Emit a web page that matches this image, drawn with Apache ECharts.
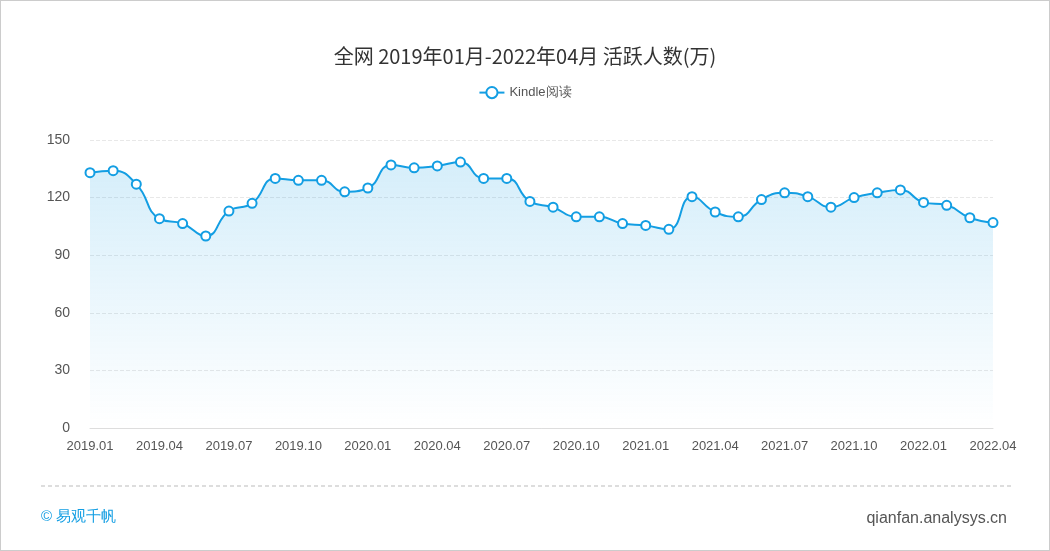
<!DOCTYPE html>
<html><head><meta charset="utf-8">
<script src="https://cdn.jsdelivr.net/npm/echarts@6/dist/echarts.min.js"></script>
<style>html,body{margin:0;padding:0;background:#fff}#c{width:1050px;height:551px;box-sizing:border-box;border:1px solid #ccc}</style>
</head><body><div id="c"></div>
<script>
const categories = [];
for (let y = 2019; y <= 2022; y++) for (let m = 1; m <= 12; m++) { if (y === 2022 && m > 4) break; categories.push(y + '.' + String(m).padStart(2, '0')); }
const values = [133,134,127,109,106.5,100,113,117,130,129,129,123,125,137,135.5,136.5,138.5,130,130,118,115,110,110,106.5,105.5,103.5,120.5,112.5,110,119,122.5,120.5,115,120,122.5,124,117.5,116,109.5,107];
const yTicks = [0,30,60,90,120,150];
const chart = echarts.init(document.getElementById('c'));
chart.setOption({
  title: {text: '全网 2019年01月-2022年04月 活跃人数(万)', left: 'center', top: 40, textStyle: {fontSize: 20, fontWeight: 'normal', color: '#333', fontFamily: 'Noto Sans CJK SC'}},
  legend: {top: 80, data: ['Kindle阅读'], textStyle: {color: '#555', fontSize: 13}, itemWidth: 25},
  grid: {left: 89, right: 56, top: 139, bottom: 122},
  xAxis: {type: 'category', boundaryGap: false, data: categories,
    axisLine: {lineStyle: {color: '#ddd'}}, axisTick: {show: false},
    axisLabel: {interval: 2, color: '#555', fontSize: 13, margin: 12}},
  yAxis: {type: 'value', min: 0, max: 150, interval: 30,
    axisLine: {show: false}, axisTick: {show: false},
    axisLabel: {color: '#555', fontSize: 14, margin: 20, formatter: v => yTicks.includes(v) ? v : ''},
    splitLine: {lineStyle: {type: 'dashed', color: '#e8e8e8'}}},
  series: [{name: 'Kindle阅读', type: 'line', smooth: true, data: values,
    symbol: 'circle', symbolSize: 9, lineStyle: {color: '#139ee3', width: 2},
    itemStyle: {color: '#fff', borderColor: '#139ee3', borderWidth: 2},
    areaStyle: {color: new echarts.graphic.LinearGradient(0,0,0,1,[{offset:0,color:'rgba(19,158,227,0.25)'},{offset:1,color:'rgba(19,158,227,0)'}])}}],
  graphic: [
    {type: 'line', shape: {x1: 40, y1: 485, x2: 1010, y2: 485}, style: {stroke: '#bbb', lineDash: [4,3]}},
    {type: 'text', left: 40, top: 508, style: {text: '© 易观千帆', fill: '#139ee3', fontSize: 15}},
    {type: 'text', right: 42, top: 510, style: {text: 'qianfan.analysys.cn', fill: '#555', fontSize: 16}}
  ]
});
</script></body></html>
